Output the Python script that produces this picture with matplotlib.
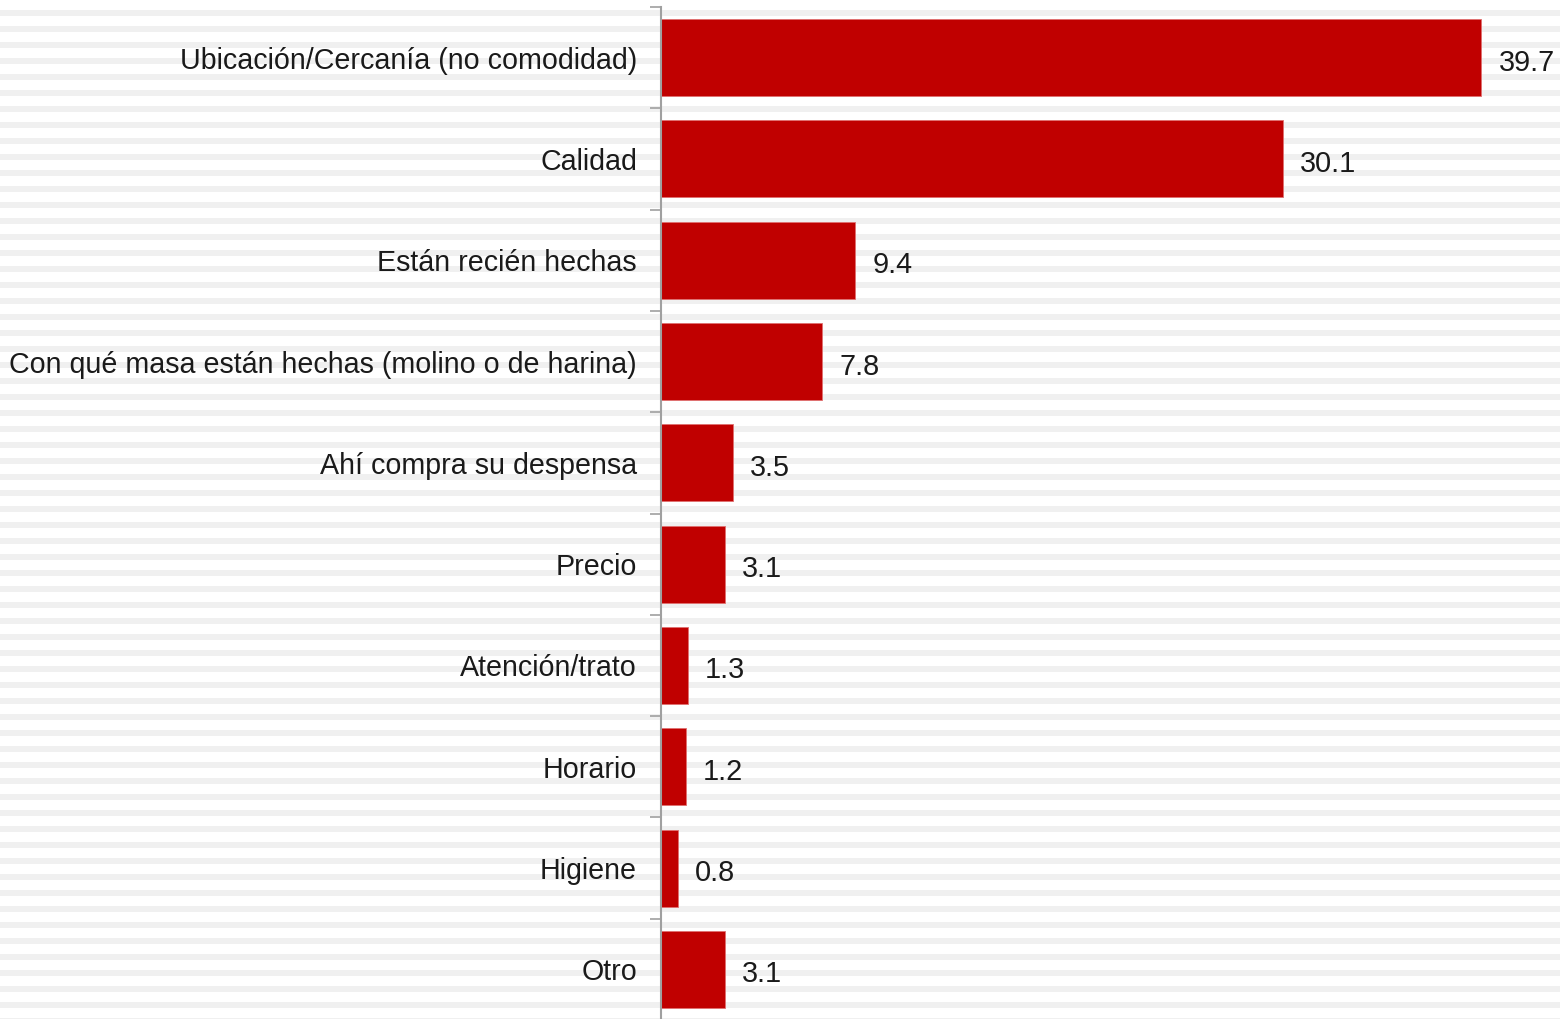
import matplotlib
matplotlib.use("Agg")
import matplotlib.pyplot as plt
from matplotlib.patches import Rectangle

categories = [
    "Ubicación/Cercanía (no comodidad)",
    "Calidad",
    "Están recién hechas",
    "Con qué masa están hechas (molino o de harina)",
    "Ahí compra su despensa",
    "Precio",
    "Atención/trato",
    "Horario",
    "Higiene",
    "Otro",
]
values = [39.7, 30.1, 9.4, 7.8, 3.5, 3.1, 1.3, 1.2, 0.8, 3.1]
value_labels = ["39.7", "30.1", "9.4", "7.8", "3.5", "3.1", "1.3", "1.2", "0.8", "3.1"]

W, H = 1560, 1020
fig = plt.figure(figsize=(W / 100, H / 100), dpi=100)
fig.patch.set_facecolor("white")

# background stripes (slide pattern)
bg = fig.add_axes([0, 0, 1, 1], zorder=0)
bg.set_xlim(0, W)
bg.set_ylim(H, 0)
bg.axis("off")
y = -5
while y < H:
    bg.add_patch(Rectangle((0, y), W, 6, facecolor="#f0f0f0", edgecolor="none"))
    y += 16

ax_left, ax_top, ax_bottom, ax_right = 661, 8, 1021, 1560
ax = fig.add_axes([ax_left / W, 1 - ax_bottom / H, (ax_right - ax_left) / W, (ax_bottom - ax_top) / H], zorder=1)
ax.patch.set_alpha(0)

n = len(categories)
pos = list(range(n))
ax.barh(pos, values, height=0.76, color="#C00000", edgecolor="#e07070", linewidth=0.6, zorder=2)
ax.set_ylim(n - 0.5, -0.5)
ax.set_xlim(0, 43.5)

ax.set_yticks([i - 0.5 for i in range(n + 1)])
ax.set_yticklabels([])
ax.tick_params(axis="y", length=8, width=1.2, color="#a0a0a0", left=True)
ax.set_xticks([])
for s in ["top", "right", "bottom"]:
    ax.spines[s].set_visible(False)
ax.spines["left"].set_color("#a0a0a0")
ax.spines["left"].set_linewidth(1.5)

for i, (c, v, lab) in enumerate(zip(categories, values, value_labels)):
    ax.annotate(c, xy=(0, i), xytext=(-24, -2), textcoords="offset pixels",
                ha="right", va="center", fontsize=20.6, family="Liberation Sans", color="#1a1a1a")
    ax.annotate(lab, xy=(v, i), xytext=(17, -4), textcoords="offset pixels",
                ha="left", va="center", fontsize=20.8, family="Liberation Sans", color="#1a1a1a")

fig.savefig("out.png", dpi=100)
